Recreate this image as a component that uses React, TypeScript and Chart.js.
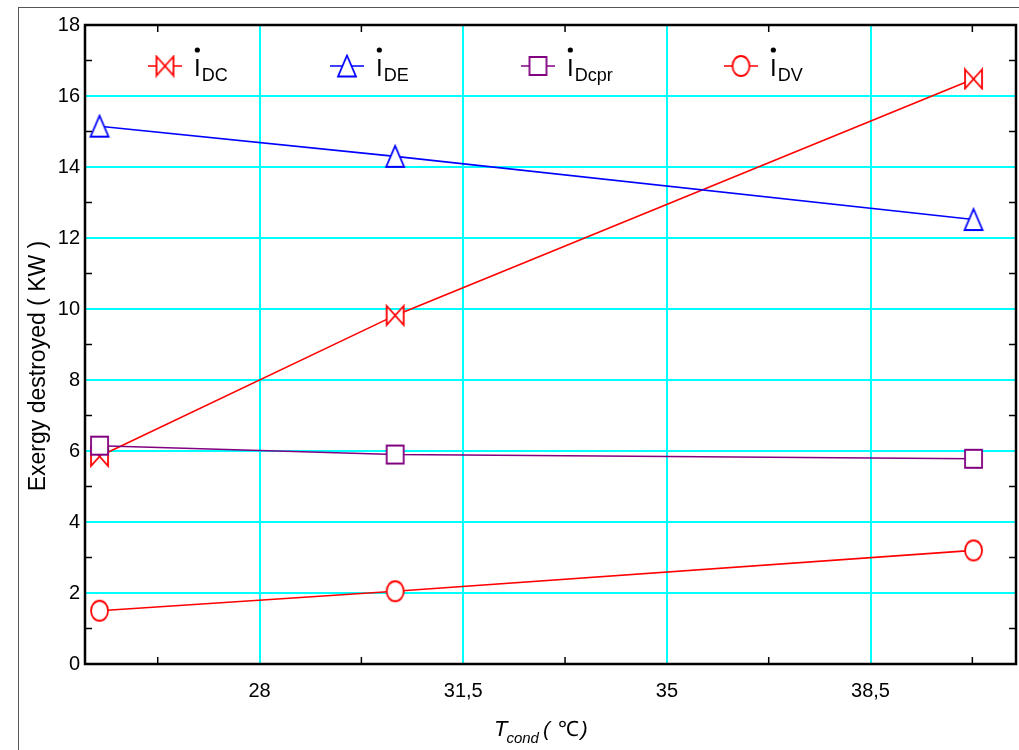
import React, { useEffect, useRef } from "react";
import { Chart, registerables } from "chart.js";

Chart.register(...registerables);

// ---------- data ----------
const xValues = [25.25, 30.33, 40.27];
const dcValues = [5.85, 9.82, 16.48];
const deValues = [15.15, 14.3, 12.52];
const dcprValues = [6.15, 5.9, 5.78];
const dvValues = [1.5, 2.05, 3.2];

const xTickValues = [28, 31.5, 35, 38.5];
const xMinorTicks = [26.25, 29.75, 33.25, 36.75, 40.25];
const yMinorTicks = [1, 3, 5, 7, 9, 11, 13, 15, 17];

const legendSubs = ["DC", "DE", "Dcpr", "DV"];
const yTitle = "Exergy destroyed ( KW )";

const RED = "#ff0000";
const BLUE = "#0000ff";
const PURPLE = "#800080";
const CYAN = "#00ffff";
const FONT = "'Liberation Sans', Arial, sans-serif";

type MarkerType = "bowtie" | "triangle" | "square" | "circle";

function makeMarker(type: MarkerType, color: string, w = 17, h = 19): HTMLCanvasElement {
  const c = document.createElement("canvas");
  c.width = w + 4;
  c.height = h + 4;
  const ctx = c.getContext("2d")!;
  const l = 2, t = 2, r = 2 + w, b = 2 + h;
  const cx = (l + r) / 2, cy = (t + b) / 2;
  ctx.lineWidth = 1.8;
  ctx.strokeStyle = color;
  ctx.fillStyle = "#ffffff";
  ctx.beginPath();
  if (type === "bowtie") {
    ctx.moveTo(l, t); ctx.lineTo(cx, cy); ctx.lineTo(l, b); ctx.closePath();
    ctx.moveTo(r, t); ctx.lineTo(cx, cy); ctx.lineTo(r, b); ctx.closePath();
  } else if (type === "triangle") {
    ctx.moveTo(cx, t); ctx.lineTo(r, b); ctx.lineTo(l, b); ctx.closePath();
  } else if (type === "square") {
    ctx.rect(l, t, w, h);
  } else {
    ctx.ellipse(cx, cy, w / 2, h / 2, 0, 0, Math.PI * 2);
  }
  ctx.fill();
  ctx.stroke();
  return c;
}

export default function App() {
  const ref = useRef<HTMLCanvasElement | null>(null);

  useEffect(() => {
    const canvas = ref.current!;
    const mDC = makeMarker("bowtie", RED);
    const mDE = makeMarker("triangle", BLUE, 18, 21);
    const mDcpr = makeMarker("square", PURPLE, 17, 18);
    const mDV = makeMarker("circle", RED, 17, 20);

    const series = [
      { label: "DC", values: dcValues, color: RED, marker: mDC, order: 4 },
      { label: "DE", values: deValues, color: BLUE, marker: mDE, order: 3 },
      { label: "Dcpr", values: dcprValues, color: PURPLE, marker: mDcpr, order: 1 },
      { label: "DV", values: dvValues, color: RED, marker: mDV, order: 2 },
    ];

    const fmt = (v: number) => String(v).replace(".", ",");

    const framePlugin = {
      id: "frame",
      beforeDraw(chart: any) {
        const ctx = chart.ctx;
        ctx.save();
        ctx.fillStyle = "#ffffff";
        ctx.fillRect(0, 0, chart.width, chart.height);
        ctx.strokeStyle = "#555555";
        ctx.lineWidth = 1;
        ctx.strokeRect(18.5, 7.5, 1200, 900);
        ctx.restore();
      },
      afterDraw(chart: any) {
        const ctx = chart.ctx;
        const a = chart.chartArea;
        const xs = chart.scales.x;
        const ys = chart.scales.y;
        ctx.save();
        // minor ticks
        ctx.strokeStyle = "#000000";
        ctx.lineWidth = 1.5;
        ctx.beginPath();
        for (const v of xMinorTicks) {
          const px = xs.getPixelForValue(v);
          ctx.moveTo(px, a.bottom); ctx.lineTo(px, a.bottom - 7);
          ctx.moveTo(px, a.top); ctx.lineTo(px, a.top + 7);
        }
        for (const v of yMinorTicks) {
          const py = ys.getPixelForValue(v);
          ctx.moveTo(a.left, py); ctx.lineTo(a.left + 7, py);
          ctx.moveTo(a.right, py); ctx.lineTo(a.right - 7, py);
        }
        ctx.stroke();
        // border
        ctx.lineWidth = 2.5;
        ctx.strokeRect(a.left, a.top, a.right - a.left, a.bottom - a.top);

        // y title
        ctx.fillStyle = "#000000";
        ctx.font = `23px ${FONT}`;
        ctx.textAlign = "center";
        ctx.textBaseline = "alphabetic";
        ctx.save();
        ctx.translate(45, 366);
        ctx.rotate(-Math.PI / 2);
        ctx.fillText(yTitle, 0, 0);
        ctx.restore();

        // x title
        ctx.textAlign = "left";
        let x = 494;
        ctx.font = `italic 22px ${FONT}`;
        ctx.fillText("T", x, 736);
        x += ctx.measureText("T").width - 1;
        ctx.font = `italic 15px ${FONT}`;
        ctx.fillText("cond", x, 743);
        x += ctx.measureText("cond").width + 4;
        ctx.font = `italic 21px ${FONT}`;
        ctx.fillText("(", x, 736);
        x += ctx.measureText("( ").width + 2;
        ctx.font = `21px ${FONT}`;
        ctx.fillText("\u2103", x, 736);
        x += ctx.measureText("\u2103").width + 2;
        ctx.font = `italic 21px ${FONT}`;
        ctx.fillText(")", x, 736);

        // legend
        const legendX = [165, 347, 538, 741];
        const ly = 66;
        series.forEach((s, i) => {
          const cx = legendX[i];
          ctx.strokeStyle = s.color;
          ctx.lineWidth = 1.6;
          ctx.beginPath();
          ctx.moveTo(cx - 17, ly);
          ctx.lineTo(cx + 17, ly);
          ctx.stroke();
          ctx.drawImage(s.marker, cx - s.marker.width / 2, ly - s.marker.height / 2);
          const tx = cx + 29;
          ctx.fillStyle = "#000000";
          ctx.font = `24px ${FONT}`;
          ctx.fillText("I", tx, 76);
          const iw = ctx.measureText("I").width;
          ctx.beginPath();
          ctx.arc(tx + iw / 2, 50, 2.6, 0, Math.PI * 2);
          ctx.fill();
          ctx.font = `18px ${FONT}`;
          ctx.fillText(legendSubs[i], tx + iw + 1, 81);
        });
        ctx.restore();
      },
    };

    const chart = new Chart(canvas, {
      type: "line",
      data: {
        datasets: series.map((s) => ({
          label: s.label,
          data: xValues.map((x, i) => ({ x, y: s.values[i] })),
          borderColor: s.color,
          borderWidth: 1.6,
          pointStyle: s.marker as any,
          pointRadius: 10,
          pointHoverRadius: 10,
          order: s.order,
          tension: 0,
          fill: false,
        })),
      },
      options: {
        responsive: false,
        animation: false,
        events: [],
        layout: { autoPadding: false, padding: { top: 25, right: 3, left: 0, bottom: 0 } },
        plugins: { legend: { display: false }, tooltip: { enabled: false } },
        scales: {
          x: {
            type: "linear",
            min: 25,
            max: 41,
            afterBuildTicks: (scale: any) => {
              scale.ticks = xTickValues.map((v) => ({ value: v }));
            },
            afterFit: (scale: any) => {
              scale.height = 86;
              scale.paddingLeft = 0;
              scale.paddingRight = 0;
            },
            ticks: {
              autoSkip: false,
              maxRotation: 0,
              padding: 15,
              color: "#000000",
              font: { family: FONT, size: 20 },
              callback: (v: any) => fmt(Number(v)),
            },
            grid: { color: CYAN, lineWidth: 2, drawTicks: false },
            border: { display: false },
          },
          y: {
            type: "linear",
            min: 0,
            max: 18,
            afterFit: (scale: any) => {
              scale.width = 85;
              scale.paddingTop = 0;
              scale.paddingBottom = 0;
            },
            ticks: {
              stepSize: 2,
              padding: 5,
              color: "#000000",
              font: { family: FONT, size: 20 },
              callback: (v: any) => fmt(Number(v)),
            },
            grid: {
              color: (c: any) => (c.tick && (c.tick.value === 0 || c.tick.value === 18) ? "rgba(0,0,0,0)" : CYAN),
              lineWidth: 2,
              drawTicks: false,
            },
            border: { display: false },
          },
        },
      },
      plugins: [framePlugin],
    });
    return () => chart.destroy();
  }, []);

  return (
    <div style={{ position: "fixed", left: 0, top: 0, width: 1019, height: 750, overflow: "hidden" }}>
      <canvas ref={ref} width={1019} height={750} style={{ display: "block" }} />
    </div>
  );
}
